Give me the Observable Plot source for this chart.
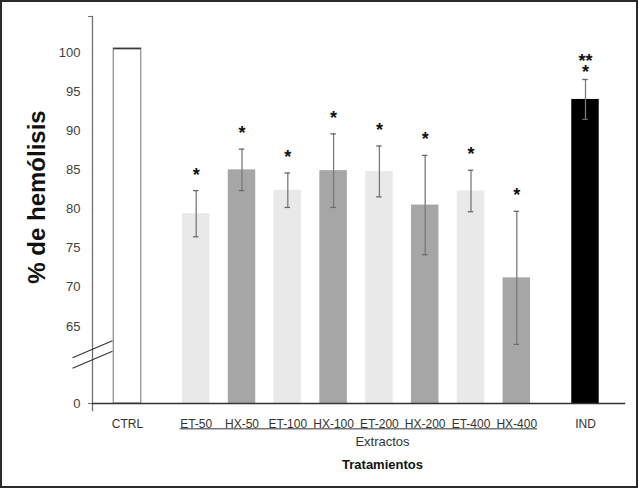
<!DOCTYPE html>
<html><head><meta charset="utf-8">
<script src="https://cdn.jsdelivr.net/npm/d3@7"></script>
<script src="https://cdn.jsdelivr.net/npm/@observablehq/plot@0.6"></script>
<style>
html,body{margin:0;padding:0;background:#fff;}
#wrap{position:relative;width:639px;height:489px;overflow:hidden;}
#border{position:absolute;left:0;top:0;width:638px;height:488px;box-sizing:border-box;border:2px solid #2a2a2a;pointer-events:none;}
</style></head><body>
<div id="wrap"><div id="border"></div></div>
<script>
// ---- data ----
const categories = ["CTRL","ET-50","HX-50","ET-100","HX-100","ET-200","HX-200","ET-400","HX-400","IND"];
const groups = ["Control","Extractos","Extractos","Extractos","Extractos","Extractos","Extractos","Extractos","Extractos","Indometacina"];
const means = [100.5, 79.4, 85.0, 82.4, 84.9, 84.8, 80.5, 82.3, 71.2, 94.0];
const errors = [null, 2.95, 2.65, 2.2, 4.7, 3.25, 6.35, 2.65, 8.5, 2.55];
const significance = ["", "*", "*", "*", "*", "*", "*", "*", "*", "**\n*"];
const yTicks = [0, 65, 70, 75, 80, 85, 90, 95, 100];
const yTitle = "% de hemólisis";
const groupLabel = "Extractos";
const xTitle = "Tratamientos";

// ---- broken y axis: values below brkV are compressed ----
const brkV = 60, lowBase = 55.144, yTop = 104.6;
const breakY = v => v >= brkV ? v : lowBase + v * (brkV - lowBase) / brkV;
const unbreakY = u => u >= brkV ? u : (u - lowBase) * brkV / (brkV - lowBase);

// ---- layout derived from order (half-step gap between groups) ----
let gapCount = 0;
const data = categories.map((c, i) => {
  if (i > 0 && groups[i] !== groups[i - 1]) gapCount++;
  return {cat: c, group: groups[i], pos: i + 0.5 * gapCount, mean: means[i], err: errors[i], sig: significance[i]};
});
const fillOf = d => d.cat === "CTRL" ? "white" : d.cat === "IND" ? "black" : d.cat.startsWith("ET") ? "#e9e9e9" : "#a6a6a6";
const withErr = data.filter(d => d.err != null);
const ctrl = data.filter(d => d.cat === "CTRL");
const half = 0.3, cap = 0.06;
const font = "Liberation Sans, Arial, sans-serif";

const plot = Plot.plot({
  width: 639, height: 489,
  marginLeft: 92, marginRight: 15, marginTop: 16, marginBottom: 86,
  style: {fontFamily: font, background: "white", overflow: "visible"},
  x: {domain: [0, 10], range: [127, 585], axis: null},
  y: {domain: [breakY(0), yTop], axis: null},
  color: {type: "identity"},
  marks: [
    Plot.rectY(data, {x1: d => d.pos - half, x2: d => d.pos + half, y1: () => breakY(0), y2: d => breakY(d.mean), fill: fillOf}),
    Plot.rectY(ctrl, {x1: d => d.pos - half, x2: d => d.pos + half, y1: () => breakY(0), y2: d => breakY(d.mean), fill: "none", stroke: "#8a8a8a", strokeWidth: 1.2}),
    Plot.ruleY(ctrl, {y: d => breakY(d.mean), x1: d => d.pos - half, x2: d => d.pos + half, stroke: "#3a3a3a", strokeWidth: 1.5}),
    Plot.ruleX(withErr, {x: "pos", y1: d => breakY(d.mean - d.err), y2: d => breakY(d.mean + d.err), stroke: "#7a7a7a", strokeWidth: 1.3}),
    Plot.ruleY(withErr, {y: d => breakY(d.mean - d.err), x1: d => d.pos - cap, x2: d => d.pos + cap, stroke: "#6a6a6a", strokeWidth: 1.3}),
    Plot.ruleY(withErr, {y: d => breakY(d.mean + d.err), x1: d => d.pos - cap, x2: d => d.pos + cap, stroke: "#6a6a6a", strokeWidth: 1.3}),
    Plot.text(withErr.filter(d => d.sig && !d.sig.includes("\n")), {x: "pos", y: d => breakY(d.mean + d.err), text: "sig", fontSize: 18, fontWeight: "bold", fill: "#111", lineAnchor: "bottom", dy: -10}),
    Plot.text(withErr.filter(d => d.sig && d.sig.includes("\n")), {x: "pos", y: d => breakY(d.mean + d.err), text: "sig", fontSize: 18, fontWeight: "bold", fill: "#111", lineAnchor: "bottom", lineHeight: 0.65, dy: -1}),
    Plot.frame({anchor: "left", stroke: "#707070", strokeWidth: 1.3, insetBottom: -7}),
    Plot.frame({anchor: "bottom", stroke: "#333", strokeWidth: 1.5}),
    Plot.axisY({ticks: yTicks.map(breakY), tickSize: 0, tickPadding: 12, fontSize: 13, fill: "#404040", label: null, tickFormat: u => String(Math.round(unbreakY(u)))}),
    Plot.axisY({ticks: [breakY(0), yTop], tickSize: 4, tickFormat: () => "", stroke: "#707070", label: null}),
    Plot.text(data.filter(d => d.group !== "Extractos"), {x: "pos", y: () => breakY(0), text: "cat", dy: 21, fontSize: 12, fill: "#333", lineAnchor: "middle"}),
    Plot.text(data.filter(d => d.group === "Extractos"), {x: "pos", y: () => breakY(0), text: "cat", dy: 21, fontSize: 12, fill: "#333", lineAnchor: "middle", className: "extract-labels"}),
    Plot.text([groupLabel], {frameAnchor: "bottom", dx: 24, dy: 38, fontSize: 13, fill: "#333", textAnchor: "middle", lineAnchor: "middle"}),
    Plot.text([xTitle], {frameAnchor: "bottom", dx: 24, dy: 61, fontSize: 13, fontWeight: "bold", fill: "#111", textAnchor: "middle", lineAnchor: "middle"}),
    Plot.text([yTitle], {frameAnchor: "left", rotate: -90, dx: -55, dy: -13, fontSize: 24, fontWeight: "bold", fill: "#111", textAnchor: "middle", lineAnchor: "middle"})
  ]
});
document.getElementById("wrap").prepend(plot);

// ---- decorations: axis break marks and group underline ----
const svg = d3.select(plot);
const ys = plot.scale("y");
const y0 = ys.apply(breakY(0));
const yb = ys.apply(breakY(61.35));
const axX = 92.5;
[-5.2, 5.2].forEach(off => {
  svg.append("line").attr("x1", axX - 20).attr("y1", yb + off + 8.5)
    .attr("x2", axX + 20).attr("y2", yb + off - 8.5)
    .attr("stroke", "#333").attr("stroke-width", 1.1);
});
const g = plot.querySelector("g.extract-labels");
if (g) {
  const bb = g.getBBox();
  const yl = y0 + 21 + 0.32 * 12 + 1;
  svg.append("line").attr("x1", bb.x).attr("x2", bb.x + bb.width)
    .attr("y1", yl).attr("y2", yl).attr("stroke", "#333").attr("stroke-width", 1);
}
</script>
</body></html>
